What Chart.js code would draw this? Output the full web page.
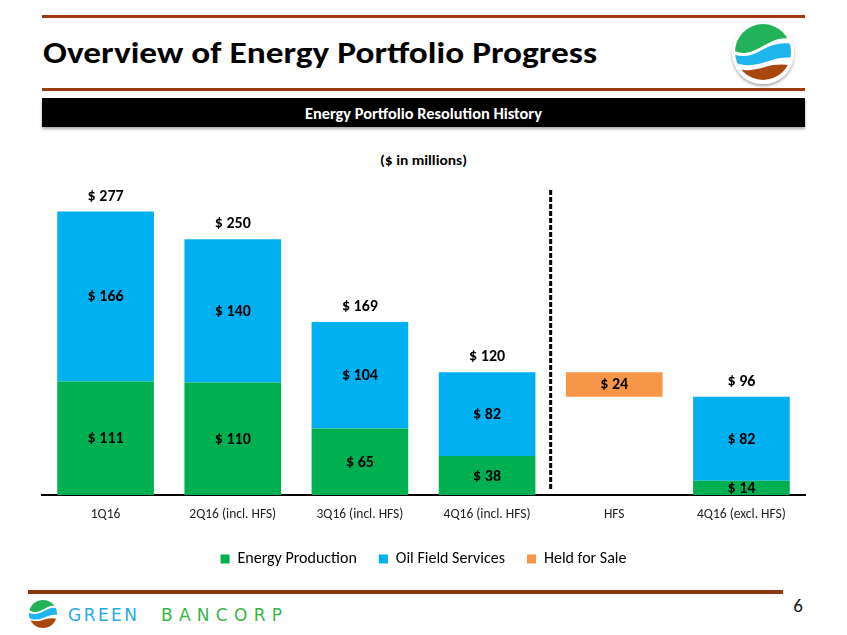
<!DOCTYPE html>
<html>
<head>
<meta charset="utf-8">
<script src="https://cdn.jsdelivr.net/npm/chart.js@4"></script>
<style>
  html, body { margin: 0; padding: 0; background: #fff; }
  #wrap { position: relative; width: 847px; height: 635px; overflow: hidden; }
  #deco { position: absolute; left: 0; top: 0; }
  #c { position: absolute; left: 0; top: 0; }
</style>
</head>
<body>
<div id="wrap">
<svg id="deco" width="847" height="635" xmlns="http://www.w3.org/2000/svg">
  <defs>
    <clipPath id="bigClip"><circle cx="763" cy="52" r="28"/></clipPath>
    <clipPath id="smallClip"><circle cx="43" cy="614" r="14"/></clipPath>
    <filter id="sh" x="-20%" y="-20%" width="140%" height="160%">
      <feDropShadow dx="0" dy="2" stdDeviation="1.5" flood-color="#000" flood-opacity="0.35"/>
    </filter>
  </defs>
  <!-- header lines -->
  <rect x="42" y="15" width="763" height="3" fill="#9E3A10"/>
  <text x="43" y="63" font-family="Carlito, Lato, 'Open Sans', sans-serif" font-weight="700" font-size="30" fill="#000" textLength="554" lengthAdjust="spacingAndGlyphs">Overview of Energy Portfolio Progress</text>
  <rect x="42" y="88" width="763" height="3" fill="#9E3A10"/>
  <!-- big logo -->
  <circle cx="763" cy="53" r="31" fill="#fff" filter="url(#sh)"/>
  <g clip-path="url(#bigClip)">
    <rect x="733" y="22" width="60" height="62" fill="#fff"/>
    <path d="M733 22 H793 V40 C 780 34, 768 44, 755 50 C 747 54, 740 54, 733 50 Z" fill="#22B25A"/>
    <path d="M733 54 C 742 58, 752 56, 762 50 C 772 44, 782 42, 793 44 V 58 C 782 56, 772 60, 762 63 C 752 66, 742 66, 733 62 Z" fill="#1EB4EC"/>
    <path d="M733 68 C 745 72, 755 70, 765 67 C 775 64, 785 64, 793 66 V 84 H 733 Z" fill="#A8480F"/>
  </g>
  <!-- banner -->
  <rect x="42" y="98" width="763" height="29" fill="#000" filter="url(#sh)"/>
  <text x="423.5" y="118.5" text-anchor="middle" font-family="Carlito, Lato, 'Open Sans', sans-serif" font-weight="700" font-size="15.5" fill="#fff" textLength="237" lengthAdjust="spacingAndGlyphs">Energy Portfolio Resolution History</text>
  <text x="423.5" y="165" text-anchor="middle" font-family="Carlito, Lato, 'Open Sans', sans-serif" font-weight="700" font-size="14.5" fill="#000" textLength="87" lengthAdjust="spacingAndGlyphs">($ in millions)</text>
  <!-- footer -->
  <rect x="28" y="590" width="755" height="4" fill="#8E3510"/>
  <text x="798" y="612" text-anchor="middle" font-family="Carlito, Lato, 'Open Sans', sans-serif" font-size="19" fill="#111">6</text>
  <g clip-path="url(#smallClip)">
    <rect x="29" y="600" width="28" height="28" fill="#fff"/>
    <path d="M29 600 H57 V606 C 52 604, 46 608, 40 611 C 35 613, 32 612, 29 610 Z" fill="#22B25A"/>
    <path d="M29 613 C 34 615, 39 614, 44 611 C 49 608, 53 607, 57 608 V 615 C 52 614, 48 616, 43 618 C 38 620, 33 620, 29 618 Z" fill="#1EB4EC"/>
    <path d="M29 620 C 35 622, 41 621, 46 619 C 50 618, 54 618, 57 619 V 628 H 29 Z" fill="#A8480F"/>
  </g>
  <text x="68" y="621" font-family="'DejaVu Sans', Lato, sans-serif" font-weight="400" font-size="17" fill="#29ABE2" textLength="69" lengthAdjust="spacing">GREEN</text>
  <text x="161" y="621" font-family="'DejaVu Sans', Lato, sans-serif" font-weight="400" font-size="17" fill="#39B54A" textLength="121" lengthAdjust="spacing">BANCORP</text>
</svg>
<canvas id="c" width="847" height="635"></canvas>
</div>
<script>
// ---- data ----
const categories = ['1Q16', '2Q16 (incl. HFS)', '3Q16 (incl. HFS)', '4Q16 (incl. HFS)', 'HFS', '4Q16 (excl. HFS)'];
const energyProduction = [111, 110, 65, 38, null, 14];
const oilFieldServices = [166, 140, 104, 82, null, 82];
const heldForSale = [null, null, null, null, [96, 120], null];
const totals = [277, 250, 169, 120, null, 96];
const seriesNames = ['Energy Production', 'Oil Field Services', 'Held for Sale'];

const FONT = "Carlito, Lato, 'Open Sans', sans-serif";

const labelPlugin = {
  id: 'barLabels',
  afterDatasetsDraw(chart) {
    const ctx = chart.ctx;
    ctx.save();
    ctx.fillStyle = '#000';
    ctx.font = 'bold 16px ' + FONT;
    ctx.textAlign = 'center';
    ctx.textBaseline = 'middle';
    chart.data.datasets.forEach((ds, di) => {
      const meta = chart.getDatasetMeta(di);
      meta.data.forEach((el, i) => {
        const raw = ds.data[i];
        if (raw === null || raw === undefined) return;
        const v = Array.isArray(raw) ? raw[1] - raw[0] : raw;
        const p = el.getProps(['x', 'y', 'base'], true);
        ctx.fillText('$ ' + v, p.x, (p.y + p.base) / 2 + 1);
      });
    });
    // totals above the stacks
    const topMeta = chart.getDatasetMeta(1);
    totals.forEach((t, i) => {
      if (t === null) return;
      const el = topMeta.data[i];
      const p = el.getProps(['x', 'y'], true);
      ctx.fillText('$ ' + t, p.x, p.y - 15);
    });
    // dashed separator between 4Q16 (incl. HFS) and HFS
    const xs = chart.scales.x;
    const sepX = (xs.getPixelForValue(3) + xs.getPixelForValue(4)) / 2;
    ctx.beginPath();
    ctx.setLineDash([5, 2]);
    ctx.lineWidth = 3;
    ctx.strokeStyle = '#000';
    ctx.moveTo(sepX, chart.chartArea.top + 2);
    ctx.lineTo(sepX, chart.chartArea.bottom - 4);
    ctx.stroke();
    ctx.restore();
  }
};

new Chart(document.getElementById('c'), {
  type: 'bar',
  data: {
    labels: categories,
    datasets: [
      { label: seriesNames[0], data: energyProduction, backgroundColor: '#00B050' },
      { label: seriesNames[1], data: oilFieldServices, backgroundColor: '#00B0F0' },
      { label: seriesNames[2], data: heldForSale, backgroundColor: '#F79646' }
    ]
  },
  options: {
    responsive: false,
    animation: false,
    devicePixelRatio: 1,
    categoryPercentage: 1.0,
    barPercentage: 0.76,
    layout: { padding: { left: 42, right: 42, top: 188, bottom: 58 } },
    scales: {
      x: {
        stacked: true,
        grid: { display: false, drawTicks: false },
        border: { display: true, color: '#000', width: 2 },
        ticks: { color: '#222', font: { family: FONT, size: 13.5 }, padding: 12, maxRotation: 0 },
        afterFit(scale) { scale.height = 34; }
      },
      y: {
        stacked: true,
        display: false,
        min: 0,
        max: 300
      }
    },
    plugins: {
      legend: {
        position: 'bottom',
        labels: {
          boxWidth: 9,
          boxHeight: 9,
          padding: 22,
          color: '#000',
          font: { family: FONT, size: 16 }
        }
      },
      tooltip: { enabled: false },
      title: { display: false }
    }
  },
  plugins: [labelPlugin]
});
</script>
</body>
</html>
